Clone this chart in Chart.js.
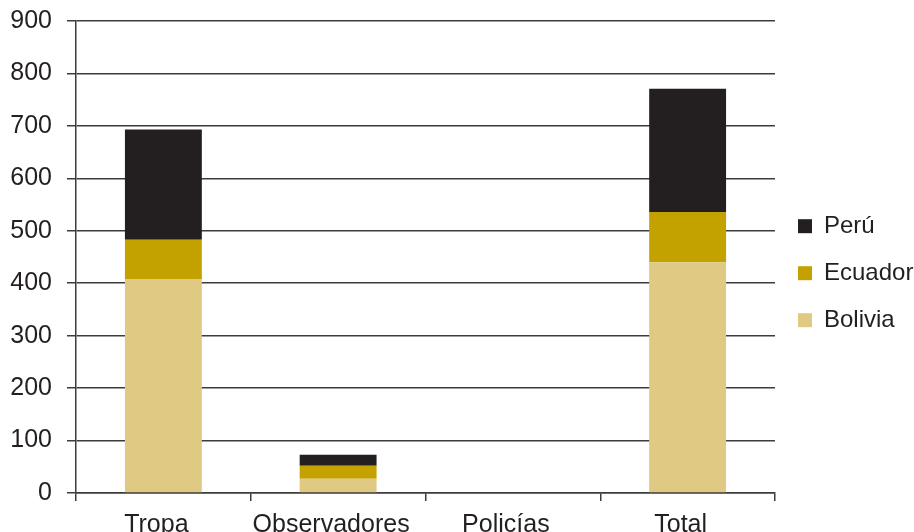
<!DOCTYPE html>
<html>
<head>
<meta charset="utf-8">
<script src="https://cdn.jsdelivr.net/npm/chart.js@4.4.1/dist/chart.umd.min.js"></script>
<style>
  html, body { margin: 0; padding: 0; background: #ffffff; }
  #wrap { width: 914px; height: 532px; position: relative; }
</style>
</head>
<body>
<div id="wrap"><canvas id="chart"></canvas></div>
<script>
// Contingentes por categoría (personas)
const categories = ['Tropa', 'Observadores', 'Policías', 'Total'];
const bolivia = [408, 27, 0, 440];
const ecuador = [75, 25, 0, 96];
const peru    = [210, 21, 0, 235];
const yTicks  = [0, 100, 200, 300, 400, 500, 600, 700, 800, 900];

const INK = '#231f20';
const GRID = '#3c3c3c';
const FONT = { family: '"Liberation Sans", Arial, sans-serif', size: 25 };

function series(label, data, color) {
  return {
    label,
    data,
    backgroundColor: color,
    borderWidth: 0,
    barPercentage: 0.44,
    categoryPercentage: 1
  };
}

new Chart(document.getElementById('chart'), {
  type: 'bar',
  data: {
    labels: categories,
    datasets: [
      series('Bolivia', bolivia, '#dfc983'),
      series('Ecuador', ecuador, '#c3a200'),
      series('Perú', peru, '#231f20')
    ]
  },
  options: {
    responsive: true,
    maintainAspectRatio: false,
    animation: false,
    layout: { padding: 0 },
    plugins: {
      tooltip: { enabled: false },
      legend: {
        position: 'right',
        reverse: true,
        maxWidth: 139,
        // empty title only pushes the item column down a little
        title: { display: true, text: '', padding: 0, font: { size: 12 } },
        labels: {
          color: INK,
          font: { family: FONT.family, size: 24 },
          boxWidth: 14,
          boxHeight: 14,
          padding: 23
        }
      }
    },
    scales: {
      x: {
        stacked: true,
        offset: true,
        afterFit: scale => { scale.height = 39; },
        border: { color: GRID, width: 1.5 },
        grid: {
          offset: true,
          drawOnChartArea: false,
          drawTicks: true,
          tickLength: 8,
          color: GRID,
          lineWidth: 1.5
        },
        ticks: { color: INK, font: FONT, padding: 9, maxRotation: 0, labelOffset: -7 }
      },
      y: {
        stacked: true,
        min: 0,
        max: 900,
        afterBuildTicks: axis => { axis.ticks = yTicks.map(v => ({ value: v })); },
        afterFit: scale => {
          scale.width = 76;
          scale.paddingTop = 21;
          scale.paddingBottom = 0;
        },
        border: { color: GRID, width: 1.5 },
        grid: {
          color: GRID,
          lineWidth: 1.5,
          drawTicks: true,
          tickLength: 9
        },
        ticks: { color: INK, font: FONT, padding: 15 }
      }
    }
  }
});
</script>
</body>
</html>
